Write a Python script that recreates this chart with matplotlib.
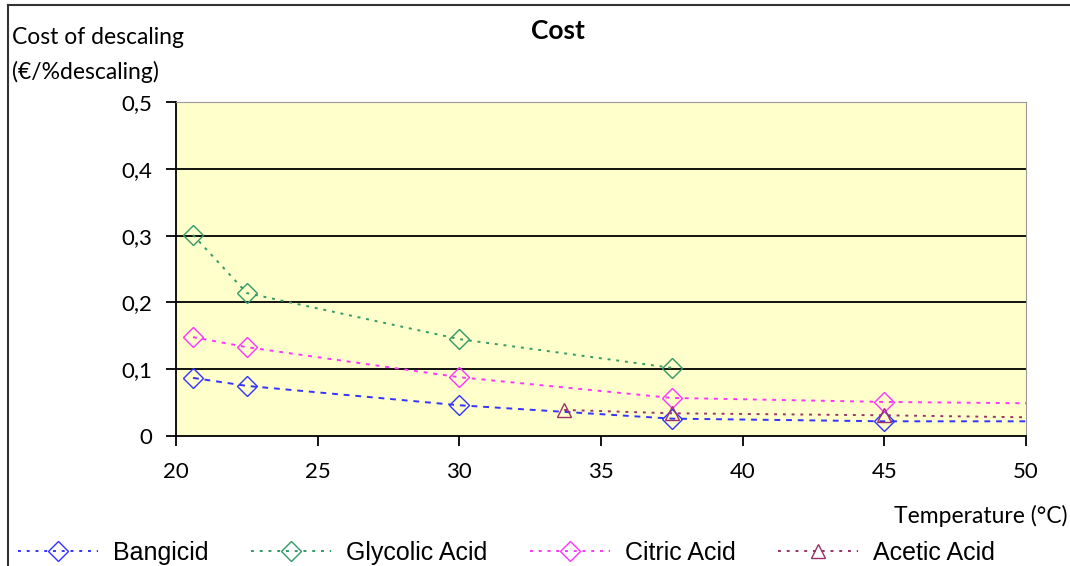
import matplotlib.pyplot as plt
from matplotlib.ticker import FuncFormatter

# values
bang_x = [20.6, 22.5, 30, 37.5, 45]
bang_y = [0.087, 0.075, 0.046, 0.026, 0.022]
bang_line_x = [20.6, 22.5, 30, 37.5, 45, 50]
bang_line_y = [0.087, 0.075, 0.046, 0.026, 0.022, 0.022]

glyc_x = [20.6, 22.5, 30, 37.5]
glyc_y = [0.301, 0.214, 0.145, 0.102]

citr_x = [20.6, 22.5, 30, 37.5, 45]
citr_y = [0.148, 0.133, 0.088, 0.057, 0.051]
citr_line_x = [20.6, 22.5, 30, 37.5, 45, 50]
citr_line_y = [0.148, 0.133, 0.088, 0.057, 0.051, 0.049]

acet_x = [33.7, 37.5, 45]
acet_y = [0.039, 0.034, 0.031]
acet_line_x = [33.7, 37.5, 45, 50]
acet_line_y = [0.039, 0.034, 0.031, 0.028]

y_ticks = [0, 0.1, 0.2, 0.3, 0.4, 0.5]
x_ticks = [20, 25, 30, 35, 40, 45, 50]

plt.rcParams['font.family'] = ['Lato', 'DejaVu Sans']

fig = plt.figure(figsize=(10.7, 5.66), dpi=100)
ax = fig.add_axes([176 / 1070, 130 / 566, 850 / 1070, 334 / 566])
ax.set_facecolor('#FFFFCC')

series = [
    ('Bangicid', '#3333FF', 'D', bang_x, bang_y, bang_line_x, bang_line_y, (0, (3, 3))),
    ('Glycolic Acid', '#339966', 'D', glyc_x, glyc_y, glyc_x, glyc_y, (0, (1.5, 3))),
    ('Citric Acid', '#FF33FF', 'D', citr_x, citr_y, citr_line_x, citr_line_y, (0, (2, 3))),
    ('Acetic Acid', '#993366', '^', acet_x, acet_y, acet_line_x, acet_line_y, (0, (1.5, 3))),
]

for name, col, mk, mx, my, lx, ly, ls in series:
    ax.plot(lx, ly, color=col, lw=1.4, ls=ls, zorder=3)
    ax.plot(mx, my, ls='none', marker=mk, ms=10, mfc='none', mec=col, mew=1.0, zorder=4)
    # legend proxy
    ax.plot([], [], color=col, lw=1.4, ls=(0, (1.5, 3)), marker=mk, ms=10,
            mfc='none', mec=col, mew=1.0, label=name)

ax.set_xlim(20, 50)
ax.set_ylim(0, 0.5)
ax.set_xticks(x_ticks)
ax.set_yticks(y_ticks)
ax.yaxis.set_major_formatter(FuncFormatter(lambda v, p: f'{v:.1f}'.replace('.', ',') if v else '0'))
for yv in y_ticks[1:-1]:
    ax.axhline(yv, color='black', lw=1.3, zorder=1)

ax.spines['left'].set_color('black')
ax.spines['bottom'].set_color('black')
ax.spines['left'].set_linewidth(1.3)
ax.spines['bottom'].set_linewidth(1.3)
ax.spines['top'].set_color('#999999')
ax.spines['right'].set_color('#999999')
ax.tick_params(direction='out', length=7, width=1.3, labelsize=16)
ax.tick_params(axis='y', pad=10)
ax.tick_params(axis='x', pad=12)

fig.text(558 / 1070, 1 - 31 / 566, 'Cost', ha='center', va='center',
         fontsize=19, fontweight='bold')
fig.text(12 / 1070, 1 - 37 / 566, 'Cost of descaling', ha='left', va='center', fontsize=16.5)
fig.text(12 / 1070, 1 - 72 / 566, '(€/%descaling)', ha='left', va='center', fontsize=16.5)
fig.text(1068 / 1070, 1 - 516 / 566, 'Temperature (°C)', ha='right', va='center', fontsize=16.5)

leg = fig.legend(loc='center left', bbox_to_anchor=(18 / 1070, 1 - 553 / 566), ncol=4,
                 frameon=False, handlelength=3.2, columnspacing=1.7, handletextpad=0.6,
                 borderpad=0, borderaxespad=0,
                 prop={'family': ['Liberation Sans', 'DejaVu Sans'], 'size': 18})

# outer chart frame (left and top edges visible in the crop)
fig.add_artist(plt.Line2D([8 / 1070, 8 / 1070], [0, 1 - 5 / 566], color='#333333', lw=1.5,
                          transform=fig.transFigure))
fig.add_artist(plt.Line2D([8 / 1070, 1], [1 - 5 / 566, 1 - 5 / 566], color='#333333', lw=1.5,
                          transform=fig.transFigure))

fig.savefig('out.png', dpi=100)
